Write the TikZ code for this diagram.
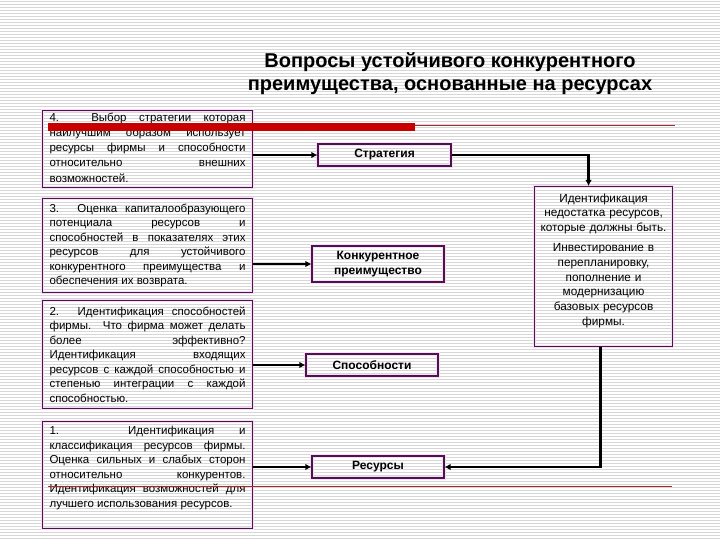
\documentclass[tikz,border=0pt]{standalone}
\usepackage{fontspec}
\setmainfont{Liberation Sans}
\usetikzlibrary{arrows.meta}
\definecolor{boxline}{RGB}{75,20,75}
\definecolor{halo}{RGB}{246,220,246}
\definecolor{redbar}{RGB}{200,0,0}
\definecolor{redline}{RGB}{170,40,40}
\newcommand{\bottomgap}[1]{\par\vspace*{#1}\hrule height 0pt}
\begin{document}
\begin{tikzpicture}[x=1pt,y=-1pt,
  stripe/.style={draw=black!16, line width=0.9pt},
  box/.style={rectangle, draw=boxline, line width=1.1pt,
    preaction={draw=halo, line width=3.4pt}, inner sep=0pt},
  lbox/.style={box, anchor=north west, align=justify, text width=196pt,
    minimum width=210pt, inner xsep=7pt,
    font=\fontsize{11.5}{14.5}\selectfont},
  mbox/.style={box, align=center, minimum width=132pt,
    font=\bfseries\fontsize{12}{14.5}\selectfont},
  conn/.style={draw=black, line width=2.2pt,
    -{Latex[length=6pt,width=6.5pt]}},
  ]
\useasboundingbox (0,0) rectangle (720,540);
% striped background
\foreach \y in {1,4,...,540} {\draw[stripe] (0,\y) -- (720,\y);}

% title
\node[font=\bfseries\fontsize{20}{23}\selectfont, align=center] (title) at (450,74)
  {Вопросы устойчивого конкурентного\\преимущества, основанные на ресурсах};

% left boxes
\node[lbox, minimum height=77pt, font=\fontsize{11.5}{15.2}\selectfont] (b4) at (42,110)
  {4. Выбор стратегии которая\linebreak наилучшим образом использует\linebreak ресурсы фирмы и способности\linebreak относительно внешних\linebreak возможностей.\bottomgap{3pt}};
\node[lbox, minimum height=94pt] (b3) at (42,198)
  {3. Оценка капиталообразующего\linebreak потенциала ресурсов и\linebreak способностей в показателях этих\linebreak ресурсов для устойчивого\linebreak конкурентного преимущества и\linebreak обеспечения их возврата.};
\node[lbox, minimum height=108pt] (b2) at (42,300)
  {2. Идентификация способностей\linebreak фирмы. Что фирма может делать\linebreak более эффективно?\linebreak Идентификация входящих\linebreak ресурсов с каждой способностью и\linebreak степенью интеграции с каждой\linebreak способностью.};
\node[lbox, minimum height=107pt] (b1) at (42,421)
  {1. Идентификация и\linebreak классификация ресурсов фирмы.\linebreak Оценка сильных и слабых сторон\linebreak относительно конкурентов.\linebreak Идентификация возможностей для\linebreak лучшего использования ресурсов.\bottomgap{14pt}};

% middle boxes
\node[mbox, minimum width=133pt, minimum height=22pt] (strat) at (384.5,155) {Стратегия};
\node[mbox, minimum height=36pt] (adv) at (378,264) {Конкурентное\\преимущество};
\node[mbox, minimum height=22pt] (cap) at (372,365) {Способности};
\node[mbox, minimum height=22pt] (res) at (378,467) {Ресурсы};

% right box
\node[box, anchor=north west, align=center, text width=134pt, inner xsep=2pt,
  minimum height=160pt, font=\fontsize{11.8}{14.7}\selectfont] (ident) at (534,186)
  {Идентификация\\недостатка ресурсов,\\которые должны быть.\par\vspace{5.5pt}
   Инвестирование в\\перепланировку,\\пополнение и\\модернизацию\\базовых ресурсов\\фирмы.\bottomgap{12pt}};

% connectors
\draw[conn] (b4.east |- strat.west) -- (strat.west);
\draw[conn] (b3.east |- adv.west) -- (adv.west);
\draw[conn] (b2.east |- cap.west) -- (cap.west);
\draw[conn] (b1.east |- res.west) -- (res.west);
\draw[conn] (strat.east) -| ([xshift=-15pt]ident.north);
\draw[conn] ([xshift=-3pt]ident.south) |- (res.east);

% template red lines
\fill[redbar] (48,123) rectangle (415,131);
\draw[redline, line width=0.9pt] (415,125) -- (675,125);
\draw[redline, line width=0.9pt] (48,486) -- (672,486);
\end{tikzpicture}
\end{document}
